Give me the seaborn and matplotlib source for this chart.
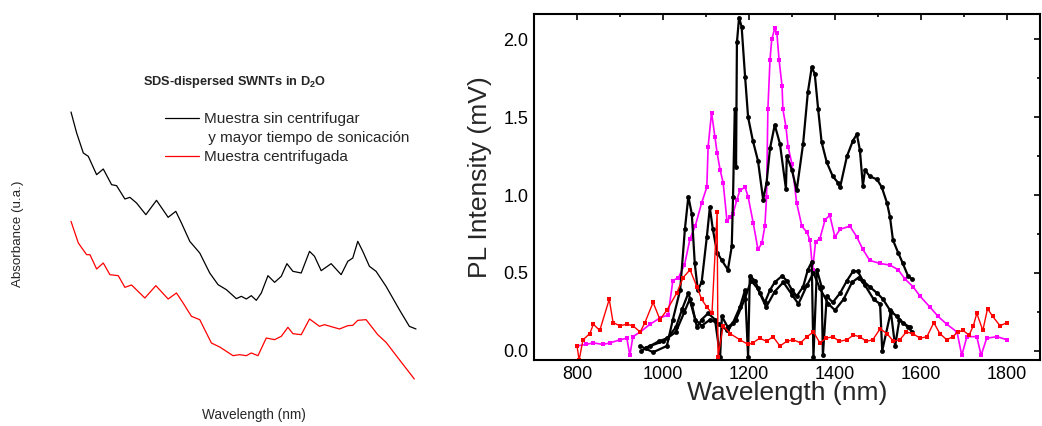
import numpy as np
import pandas as pd
import seaborn as sns
from matplotlib import pyplot as plt
from matplotlib.lines import Line2D

# ---- left panel: absorbance spectra (arbitrary units) ----
abs_wl_black = [400, 417, 437, 452, 477, 497, 522, 537, 562, 577, 597, 625, 657, 692, 715, 732,
                757, 787, 817, 842, 867, 897, 912, 927, 942, 957, 972, 992, 1012, 1032, 1049, 1067,
                1092, 1117, 1132, 1152, 1182, 1212, 1232, 1247, 1262, 1277, 1297, 1317, 1347, 1387,
                1417, 1437]
abs_black = [0.843, 0.780, 0.720, 0.710, 0.655, 0.672, 0.625, 0.622, 0.582, 0.587, 0.570, 0.535,
             0.578, 0.527, 0.545, 0.510, 0.455, 0.420, 0.360, 0.325, 0.310, 0.283, 0.290, 0.282,
             0.292, 0.278, 0.300, 0.352, 0.332, 0.350, 0.388, 0.365, 0.360, 0.425, 0.410, 0.367,
             0.388, 0.355, 0.395, 0.405, 0.455, 0.425, 0.380, 0.365, 0.320, 0.250, 0.200, 0.192]
abs_wl_red = [400, 422, 447, 457, 477, 497, 517, 542, 562, 582, 622, 655, 692, 717, 737, 762, 787,
              822, 847, 887, 907, 927, 942, 962, 987, 1012, 1032, 1052, 1067, 1092, 1117, 1147,
              1162, 1207, 1232, 1247, 1262, 1287, 1322, 1347, 1387, 1432]
abs_red = [0.515, 0.450, 0.415, 0.415, 0.372, 0.390, 0.355, 0.352, 0.317, 0.324, 0.285, 0.322,
           0.282, 0.300, 0.270, 0.230, 0.220, 0.150, 0.138, 0.112, 0.115, 0.112, 0.120, 0.112,
           0.165, 0.160, 0.170, 0.197, 0.178, 0.175, 0.222, 0.200, 0.205, 0.192, 0.202, 0.203,
           0.218, 0.220, 0.175, 0.152, 0.100, 0.042]

# ---- right panel: PL spectra (mV) ----
pl_wl_magenta = [800, 820, 838, 860, 877, 900, 916, 923, 930, 947, 970, 993, 1012, 1023, 1036, 1050,
                 1063, 1075, 1090, 1102, 1105, 1113, 1121, 1126, 1133, 1140, 1149, 1156, 1163, 1172,
                 1179, 1191, 1198, 1210, 1221, 1230, 1237, 1241, 1244, 1249, 1253, 1260, 1265, 1270,
                 1277, 1279, 1286, 1291, 1300, 1311, 1323, 1335, 1342, 1348, 1355, 1365, 1377, 1388,
                 1400, 1412, 1435, 1451, 1465, 1481, 1505, 1528, 1547, 1563, 1582, 1598, 1621, 1640,
                 1660, 1684, 1695, 1707, 1730, 1740, 1753, 1777, 1800]
pl_magenta = [0.03, 0.04, 0.05, 0.04, 0.05, 0.07, 0.08, -0.03, 0.09, 0.12, 0.17, 0.21, 0.23, 0.45,
              0.47, 0.55, 0.72, 0.80, 0.95, 1.05, 1.31, 1.53, 1.37, 1.27, 1.16, 1.08, 0.83, 0.86,
              0.88, 0.97, 1.03, 1.05, 0.99, 0.82, 0.65, 0.69, 0.80, 0.99, 1.55, 1.87, 2.00, 2.07,
              2.04, 1.87, 1.70, 1.55, 1.44, 1.31, 1.20, 0.95, 0.80, 0.76, 0.71, 0.52, 0.70, 0.72,
              0.84, 0.87, 0.73, 0.78, 0.80, 0.73, 0.65, 0.58, 0.56, 0.55, 0.52, 0.46, 0.41, 0.35,
              0.28, 0.22, 0.17, 0.12, -0.03, 0.09, 0.09, -0.03, 0.08, 0.09, 0.07]

pl_wl_black_a = [947, 977, 1009, 1023, 1040, 1051, 1059, 1067, 1074, 1081, 1090, 1102, 1109, 1116,
                 1126, 1137, 1151, 1160, 1163, 1167, 1170, 1172, 1177, 1183, 1191, 1198, 1209, 1221,
                 1233, 1241, 1249, 1260, 1272, 1286, 1288, 1300, 1311, 1326, 1337, 1346, 1353, 1361,
                 1369, 1381, 1395, 1407, 1412, 1428, 1442, 1451, 1458, 1465, 1470, 1481, 1498, 1509,
                 1521, 1528, 1535, 1547, 1558, 1570, 1579]
pl_black_a = [0.03, -0.01, 0.03, 0.20, 0.39, 0.78, 0.99, 0.88, 0.56, 0.39, 0.44, 0.73, 0.92, 0.78,
              0.63, 0.58, 0.52, 0.67, 0.99, 1.55, 1.18, 1.98, 2.14, 2.08, 1.76, 1.50, 1.35, 1.22,
              0.97, 1.08, 1.30, 1.45, 1.33, 1.04, 1.25, 1.16, 1.03, 1.33, 1.66, 1.82, 1.78, 1.55,
              1.34, 1.21, 1.12, 1.08, 1.05, 1.25, 1.35, 1.39, 1.29, 1.06, 1.16, 1.12, 1.10, 1.05,
              0.95, 0.86, 0.71, 0.63, 0.56, 0.48, 0.46]

pl_wl_black_b = [950, 970, 990, 1010, 1030, 1045, 1059, 1067, 1079, 1090, 1105, 1121, 1133, 1137,
                 1151, 1163, 1179, 1191, 1198, 1202, 1214, 1226, 1237, 1249, 1260, 1277, 1288, 1300,
                 1311, 1326, 1337, 1346, 1350, 1358, 1369, 1372, 1381, 1395, 1412, 1428, 1442, 1453,
                 1465, 1481, 1498, 1512, 1528, 1544, 1558, 1574]
pl_black_b = [0.00, 0.03, 0.06, 0.08, 0.15, 0.27, 0.37, 0.30, 0.15, 0.20, 0.24, 0.20, -0.04, 0.22,
              0.15, 0.18, 0.28, 0.39, -0.04, 0.48, 0.45, 0.37, 0.31, 0.39, 0.44, 0.48, 0.45, 0.39,
              0.35, 0.41, 0.52, 0.57, -0.04, 0.52, 0.41, -0.03, 0.35, 0.31, 0.37, 0.45, 0.51, 0.51,
              0.45, 0.41, 0.37, 0.33, 0.26, 0.22, 0.18, 0.15]

pl_wl_black_c = [960, 1000, 1030, 1050, 1062, 1075, 1090, 1110, 1130, 1150, 1170, 1190, 1205, 1220,
                 1240, 1260, 1280, 1300, 1315, 1335, 1350, 1365, 1385, 1400, 1420, 1440, 1455, 1470,
                 1490, 1505, 1510, 1530, 1540, 1550, 1570, 1580]
pl_black_c = [0.02, 0.06, 0.12, 0.25, 0.33, 0.20, 0.16, 0.20, 0.17, 0.13, 0.20, 0.33, 0.45, 0.40,
              0.28, 0.38, 0.44, 0.36, 0.30, 0.42, 0.50, 0.40, 0.30, 0.26, 0.33, 0.44, 0.47, 0.42,
              0.33, 0.30, 0.00, 0.25, 0.03, 0.20, 0.15, 0.12]

pl_wl_red = [800, 805, 814, 830, 838, 853, 875, 884, 900, 916, 930, 947, 958, 977, 993, 1009, 1032,
             1047, 1063, 1079, 1090, 1102, 1114, 1126, 1128, 1140, 1156, 1179, 1198, 1209, 1225,
             1241, 1256, 1272, 1288, 1303, 1320, 1335, 1350, 1365, 1380, 1395, 1410, 1428, 1443,
             1458, 1473, 1488, 1505, 1521, 1536, 1551, 1566, 1581, 1598, 1614, 1630, 1644, 1660,
             1674, 1686, 1698, 1712, 1722, 1730, 1744, 1755, 1767, 1784, 1800]
pl_red = [0.03, -0.06, 0.07, 0.11, 0.17, 0.13, 0.33, 0.18, 0.16, 0.17, 0.16, 0.12, 0.18, 0.31, 0.20,
          0.26, 0.37, 0.47, 0.52, 0.41, 0.33, 0.28, 0.24, 0.89, -0.04, 0.16, 0.11, 0.07, 0.04, 0.05,
          0.08, 0.06, 0.09, 0.03, 0.06, 0.07, 0.05, 0.09, 0.12, 0.05, 0.08, 0.09, 0.06, 0.07, 0.10,
          0.09, 0.06, 0.07, 0.14, 0.11, 0.06, 0.07, 0.12, 0.11, 0.08, 0.09, 0.18, 0.11, 0.07, 0.09,
          0.12, 0.13, 0.10, 0.16, 0.24, 0.13, 0.27, 0.22, 0.16, 0.18]

x_ticks = [800, 1000, 1200, 1400, 1600, 1800]
y_ticks = [0.0, 0.5, 1.0, 1.5, 2.0]

sns.set_theme(style="white")
plt.rcParams['font.family'] = ['Liberation Sans', 'DejaVu Sans']

fig = plt.figure(figsize=(10.42, 4.26), dpi=100)

# left panel, no visible axes
ax1 = fig.add_axes([71 / 1042, 47 / 426, 345 / 1042, 267 / 426])
sns.lineplot(x=abs_wl_black, y=abs_black, ax=ax1, color="black", lw=0.9, sort=False,
             estimator=None, clip_on=False)
sns.lineplot(x=abs_wl_red, y=abs_red, ax=ax1, color="#ff0000", lw=0.9, sort=False,
             estimator=None, clip_on=False)
ax1.set_xlim(400, 1437)
ax1.set_ylim(0.042, 0.843)
ax1.axis("off")

handles = [Line2D([], [], color="black", lw=0.9), Line2D([], [], color="none"),
           Line2D([], [], color="#ff0000", lw=0.9)]
labels = ["Muestra sin centrifugar", " y mayor tiempo de sonicación", "Muestra centrifugada"]
fig.legend(handles, labels, loc="upper left", bbox_to_anchor=(165 / 1042, 1 - 112 / 426),
           frameon=False, fontsize=11, handlelength=2.2, handletextpad=0.33,
           labelspacing=0.33, borderpad=0, borderaxespad=0)

fig.text(235 / 1042, 1 - 82 / 426, "SDS-dispersed SWNTs in D$_\\mathregular{2}$O",
         ha="center", va="center", fontsize=9.2, fontweight="bold")
fig.text(18 / 1042, 1 - 234 / 426, "Absorbance (u.a.)", rotation=90,
         ha="center", va="center", fontsize=9.6)
fig.text(254 / 1042, 1 - 415 / 426, "Wavelength (nm)", ha="center", va="center", fontsize=9.8)

# right panel
ax2 = fig.add_axes([534 / 1042, 66 / 426, 506 / 1042, 346 / 426])
sns.lineplot(x=pl_wl_magenta, y=pl_magenta, ax=ax2, color="#ff00ff", lw=1.2, marker="s",
             markersize=3.5, markeredgewidth=0, sort=False, estimator=None)
for wl, val in [(pl_wl_black_a, pl_black_a), (pl_wl_black_b, pl_black_b),
                (pl_wl_black_c, pl_black_c)]:
    sns.lineplot(x=wl, y=val, ax=ax2, color="black", lw=1.6, marker="o",
                 markersize=3.5, markeredgewidth=0, sort=False, estimator=None)
sns.lineplot(x=pl_wl_red, y=pl_red, ax=ax2, color="#ff0000", lw=1.0, marker="s",
             markersize=3.2, markeredgewidth=0, sort=False, estimator=None)

ax2.set_xlim(700, 1877)
ax2.set_ylim(-0.06, 2.163)
ax2.set_xticks(x_ticks)
ax2.set_xticklabels([str(t) for t in x_ticks])
ax2.set_yticks(y_ticks)
ax2.set_yticklabels([f"{t:.1f}" for t in y_ticks])
ax2.set_xticks(np.arange(900, 1900, 200), minor=True)
ax2.set_yticks([0.25, 0.75, 1.25, 1.75], minor=True)
ax2.tick_params(which="both", direction="in", top=True, right=True, width=1.2,
                labelsize=13, colors="black")
ax2.tick_params(which="major", length=4.5, pad=4)
ax2.tick_params(which="minor", length=2.5)
for s in ax2.spines.values():
    s.set_linewidth(1.5)
    s.set_color("black")
ax2.set_xlabel("Wavelength (nm)", fontsize=19, labelpad=-1)
ax2.set_ylabel("PL Intensity (mV)", fontsize=19)
ax2.yaxis.set_label_coords(-0.083, 0.529)

fig.savefig("out.png", dpi=100)
